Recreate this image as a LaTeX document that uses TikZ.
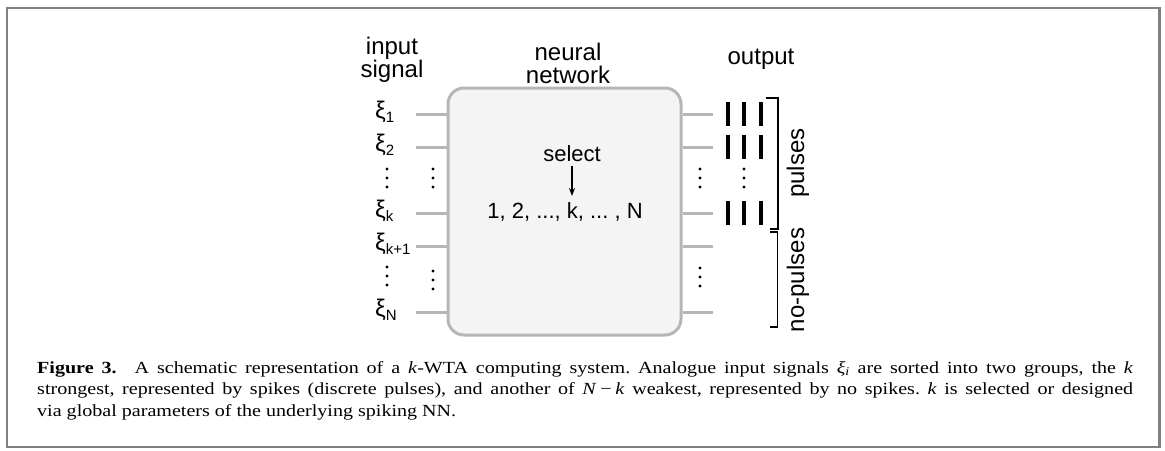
\documentclass[tikz,border=0pt]{standalone}
\usepackage{fontspec}
\setmainfont{Liberation Serif}[FakeStretch=1.18]
\newfontfamily\lsans{Liberation Sans}
\usetikzlibrary{arrows.meta}
\definecolor{framegray}{RGB}{128,128,128}
\definecolor{conngray}{RGB}{182,182,185}
\definecolor{boxfill}{RGB}{244,244,244}
\newcommand{\xisub}[1]{ξ\raisebox{-4pt}{\fontsize{15}{15}\selectfont #1}}
\begin{document}
\frenchspacing
\begin{tikzpicture}[x=1pt,y=-1pt,
  lbl/.style={font=\lsans\fontsize{24}{23}\selectfont, inner sep=0pt, align=center},
  innertxt/.style={font=\lsans\fontsize{22}{24}\selectfont, inner sep=0pt},
  xilbl/.style={font=\lsans\fontsize{24}{24}\selectfont, inner sep=0pt, anchor=base west},
  conn/.style={conngray, line width=3pt},
  netbox/.style={draw=conngray, fill=boxfill, line width=3pt, rounded corners=16pt,
    minimum width=233pt, minimum height=247pt, inner sep=0pt},
  brk/.style={line width=1.3pt, black},
  vd/.pic={\foreach \d in {-9,0,9} \fill[black] (0,\d) circle (1.6pt);},
  spikes/.pic={\foreach \sx in {-16,0,17} \draw[black, line width=4pt] (\sx,-12) -- (\sx,12);},
]
\useasboundingbox (0,0) rectangle (1165,450);
\draw[framegray, line width=2.4pt] (7,8) rectangle (1159.5,447);

% network box
\node[netbox] (net) at (564.5,211.5) {};
\node[lbl] (hin) at (392,60) {input\\signal};
\node[lbl] (hnet) at (568,63) {neural\\network};
\node[lbl] (hout) at (761,59) {output};

\node[innertxt, anchor=base] (sel) at (572,161) {select};
\node[innertxt, anchor=base] (seq) at (565,218) {1, 2, ..., k, ... , N};
\coordinate (selA) at (572,166);
\coordinate (selB) at (572,196);
\draw[-{Stealth[length=8pt,width=6pt]}, line width=1.3pt] (selA) -- (selB);

% input labels and connectors
\foreach \nm/\yy/\sb in {1/114/1, 2/147/2, k/213/k, k1/246/k+1, N/312/N}{
  \node[xilbl] (x\nm) at (375,\yy+4) {\xisub{\sb}};
  \coordinate (i\nm) at (416,\yy);
  \draw[conn] (i\nm) -- (i\nm -| net.west);
  \coordinate (o\nm) at (713,\yy);
  \draw[conn] (o\nm -| net.east) -- (o\nm);
}
% dots
\pic at (387,178) {vd};
\pic at (433,178) {vd};
\pic at (387,276) {vd};
\pic at (433,280) {vd};
\pic at (700,178) {vd};
\pic at (744,178) {vd};
\pic at (700,277) {vd};

% spikes
\pic at (744,114) {spikes};
\pic at (744,147) {spikes};
\pic at (744,213) {spikes};

% brackets
\coordinate (bp1) at (766,98);
\coordinate (bp2) at (770,229);
\draw[brk] (bp1) -- (778,98) -- (778,229) -- (bp2);
\coordinate (bn1) at (770,232);
\coordinate (bn2) at (770,327);
\draw[brk] (bn1) -- (777.5,232) -- (777.5,327) -- (bn2);
\node[lbl, rotate=90] (tp) at (798,163) {pulses};
\node[lbl, rotate=90] (tn) at (798,280) {no-pulses};

% caption
\node[anchor=north west, inner sep=0pt, text width=1096pt, align=justify,
  font=\fontsize{17}{21.5}\selectfont] (cap) at (37,361) {\textbf{Figure 3.}\hspace{0.6em} A schematic representation of a \textit{k}-WTA computing system. Analogue input signals \textit{ξ\textsubscript{i}} are sorted into two groups, the \textit{k}\linebreak strongest, represented by spikes (discrete pulses), and another of \textit{N}\hspace{0.22em}−\hspace{0.22em}\textit{k} weakest, represented by no spikes. \textit{k} is selected or designed\linebreak via global parameters of the underlying spiking NN.};
\end{tikzpicture}
\end{document}
